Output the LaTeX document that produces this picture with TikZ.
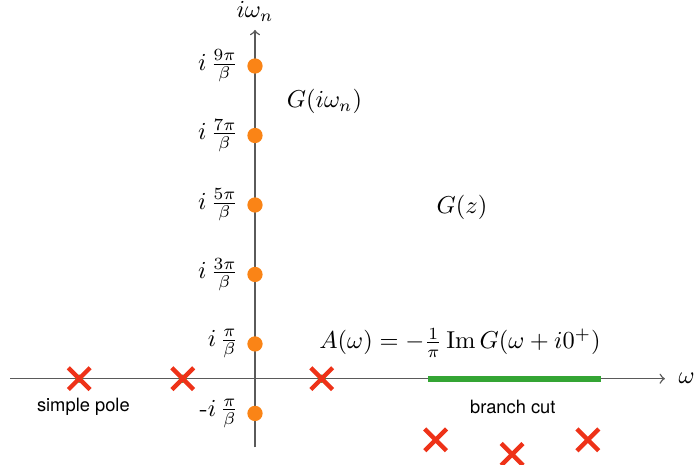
\documentclass[tikz,border=0pt]{standalone}
\usepackage{amsmath,amssymb}
\usepackage{fontspec}
\usepackage{tikz}
\usetikzlibrary{arrows.meta, positioning, shapes.misc}
\newfontfamily\labelfont{TeX Gyre Heros}

\begin{document}
\begin{tikzpicture}[>=to, every node/.style={align=center}]
      \definecolor{axiscol}{RGB}{90,90,90} \definecolor{polecol}{RGB}{238,50,24}
      \definecolor{matcol}{RGB}{250,132,22} \definecolor{cutcol}{RGB}{52,165,52}
      \tikzset{
        matdot/.style={circle, fill=matcol, inner sep=0pt, minimum size=0.22cm},
        polemark/.style={cross out, draw=polecol, line width=1.8pt, inner sep=0pt, minimum size=0.25cm},
        poledot/.style={circle, fill=cutcol, inner sep=0pt, minimum size=0.12cm},
        smalltext/.style={font=\labelfont\fontsize{7.5}{9}\selectfont}
      }
      \useasboundingbox (-3.67,-1.24) rectangle (6.39,5.45);
      % axes
      \coordinate (xl) at (-3.52,0); \coordinate (xr) at (5.9,0);
      \coordinate (yb) at (0,-0.99); \coordinate (yt) at (0,5.02);
      \draw[->, axiscol, line width=0.6pt] (xl) -- (xr) node[right, xshift=2pt, text=black] (wlab) {$\omega$};
      \draw[->, axiscol, line width=0.6pt] (yb) -- (yt) node[above, text=black] (wnlab) {$i\omega_n$};
      % branch cut
      \coordinate (c1) at (2.49,0); \coordinate (c2) at (4.98,0);
      \draw[cutcol, line width=2.6pt] (c1) -- (c2);
      \node[smalltext] (cutlab) at (3.71,-0.40) {branch cut};
      % Matsubara frequencies
      \node[matdot, label={left:$i\,\frac{\pi}{\beta}$}] (m1) at (0,0.5) {};
      \node[matdot, label={left:-$i\,\frac{\pi}{\beta}$}] (mm1) at (0,-0.5) {};
      \foreach \k in {3,5,7,9}
        \node[matdot, label={left:$i\,\frac{\k\pi}{\beta}$}] (m\k) at (0,\k/2) {};
      % poles on the real axis
      \foreach \x [count=\i] in {-2.53,-1.04,0.96} {
        \node[poledot] (g\i) at (\x,0) {};
        \node[polemark] (p\i) at (\x,0) {};
      }
      \node[smalltext] (polelab) at (-2.47,-0.40) {simple pole};
      % poles below the axis
      \node[polemark] (q1) at (2.60,-0.88) {};
      \node[polemark] (q2) at (3.70,-1.09) {};
      \node[polemark] (q3) at (4.79,-0.88) {};
      % labels
      \node (Gmats) at (1.0,3.99) {$G(i\omega_n)$};
      \node (Gz) at (2.98,2.47) {$G(z)$};
      \node (Aw) at (2.95,0.52) {$A(\omega) = -\frac{1}{\pi}\,\mathrm{Im}\,G(\omega + i0^{+})$};
\end{tikzpicture}
\end{document}
